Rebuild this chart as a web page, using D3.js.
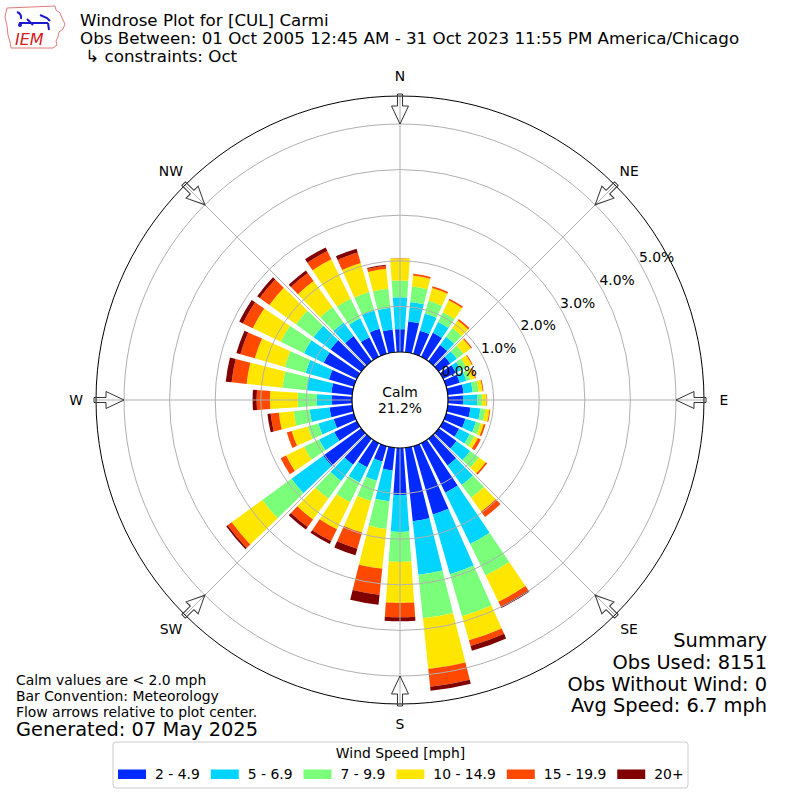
<!DOCTYPE html>
<html>
<head>
<meta charset="utf-8">
<script src="https://cdn.jsdelivr.net/npm/d3@7"></script>
<style>
body { margin: 0; background: #fff; }
text { font-family: "DejaVu Sans", sans-serif; fill: #000; }
</style>
</head>
<body>
<div id="chart"></div>
<script>
//set svg dimensions
var svgWidth = 800;
var svgHeight = 800;
//center of the rose and radii in px
var cx = 400;
var cy = 400;
var calmRadius = 48;
var outerRadius = 304;

//wind directions (degrees, meteorological)
var directions = [0, 10, 20, 30, 40, 50, 60, 70, 80, 90, 100, 110, 120, 130, 140, 150, 160, 170,
    180, 190, 200, 210, 220, 230, 240, 250, 260, 270, 280, 290, 300, 310, 320, 330, 340, 350];
//speed bins
var speedBins = ["2 - 4.9", "5 - 6.9", "7 - 9.9", "10 - 14.9", "15 - 19.9", "20+"];
//frequency (%) per direction for each speed bin
var speed2to5 = [0.50, 0.68, 0.53, 0.59, 0.44, 0.31, 0.31, 0.31, 0.35, 0.33, 0.50, 0.44, 0.39, 0.48, 0.72, 1.21, 1.56, 1.62,
    1.03, 0.50, 0.35, 0.59, 0.70, 1.03, 0.55, 0.46, 0.50, 0.44, 0.46, 0.57, 0.81, 0.83, 0.68, 0.48, 0.57, 0.50];
var speed5to7 = [0.70, 0.43, 0.39, 0.26, 0.22, 0.18, 0.13, 0.15, 0.20, 0.31, 0.22, 0.24, 0.26, 0.37, 0.53, 1.25, 1.36, 1.18,
    0.81, 0.68, 0.44, 0.37, 0.44, 0.86, 0.37, 0.35, 0.44, 0.33, 0.55, 0.53, 0.48, 0.46, 0.37, 0.46, 0.42, 0.48];
var speed7to10 = [0.37, 0.34, 0.29, 0.24, 0.24, 0.18, 0.13, 0.09, 0.13, 0.11, 0.11, 0.11, 0.11, 0.24, 0.35, 0.77, 0.96, 0.96,
    0.66, 0.61, 0.46, 0.48, 0.48, 0.79, 0.37, 0.24, 0.35, 0.42, 0.53, 0.48, 0.57, 0.48, 0.42, 0.48, 0.42, 0.42];
var speed10to15 = [0.48, 0.24, 0.29, 0.29, 0.20, 0.20, 0.13, 0.11, 0.09, 0.10, 0.09, 0.07, 0.09, 0.18, 0.37, 0.64, 0.55, 1.12,
    0.90, 0.88, 0.72, 0.66, 0.57, 0.83, 0.44, 0.37, 0.33, 0.61, 0.79, 0.68, 0.68, 0.72, 0.70, 0.96, 0.66, 0.44];
var speed15to20 = [0.01, 0.04, 0.04, 0.04, 0.04, 0.03, 0.02, 0.02, 0.02, 0.01, 0.02, 0.04, 0.07, 0.04, 0.15, 0.11, 0.13, 0.39,
    0.31, 0.57, 0.37, 0.29, 0.20, 0.11, 0.13, 0.11, 0.18, 0.29, 0.33, 0.33, 0.24, 0.26, 0.22, 0.20, 0.24, 0.07];
var speed20plus = [0, 0, 0, 0, 0, 0, 0, 0, 0, 0, 0, 0, 0, 0, 0, 0.04, 0.11, 0.09,
    0.09, 0.22, 0.15, 0.07, 0.07, 0.04, 0, 0, 0.07, 0.09, 0.13, 0.09, 0.09, 0.07, 0.07, 0.09, 0.09, 0.02];
//radial ticks (%)
var ringTicks = [0, 1, 2, 3, 4, 5];
//compass points
var compassLabels = ["N", "NE", "E", "SE", "S", "SW", "W", "NW"];
var compassAngles = [0, 45, 90, 135, 180, 225, 270, 315];
//calm percentage
var calmPct = 21.2;
//summary lines
var summaryLines = ["Summary", "Obs Used: 8151", "Obs Without Wind: 0", "Avg Speed: 6.7 mph"];
var footLines = ["Calm values are < 2.0 mph", "Bar Convention: Meteorology", "Flow arrows relative to plot center."];

//jet colors for the bins
var binColors = ["#002aff", "#00d4ff", "#7bff7b", "#ffe600", "#ff4900", "#800000"];

//build table for the stack
var series = [speed2to5, speed5to7, speed7to10, speed10to15, speed15to20, speed20plus];
var table = directions.map(function (dir, i) {
    var row = { dir: dir };
    speedBins.forEach(function (b, j) { row[b] = series[j][i]; });
    return row;
});
var stacked = d3.stack().keys(speedBins)(table);

//scales
var rScale = d3.scaleLinear().domain([0, 5]).range([calmRadius, 276]);
var angle = d3.scaleLinear().domain([0, 360]).range([0, 2 * Math.PI]);
var color = d3.scaleOrdinal().domain(speedBins).range(binColors);

//append svg
var svg = d3.select("#chart").append("svg")
    .attr("width", svgWidth)
    .attr("height", svgHeight);
svg.append("rect").attr("width", svgWidth).attr("height", svgHeight).attr("fill", "#fff");

var rose = svg.append("g").attr("transform", `translate(${cx}, ${cy})`);

//bars
var arc = d3.arc()
    .innerRadius(d => rScale(d[0]))
    .outerRadius(d => rScale(d[1]))
    .startAngle(d => angle(d.data.dir - 4))
    .endAngle(d => angle(d.data.dir + 4));

rose.selectAll("g.layer")
    .data(stacked)
    .enter()
    .append("g")
    .attr("class", "layer")
    .attr("fill", d => color(d.key))
    .selectAll("path")
    .data(d => d.filter(s => s[1] > s[0]))
    .enter()
    .append("path")
    .attr("d", arc);

//grid rings
rose.selectAll("circle.ring")
    .data(ringTicks.filter(t => t > 0))
    .enter()
    .append("circle")
    .attr("class", "ring")
    .attr("r", d => rScale(d))
    .attr("fill", "none")
    .attr("stroke", "#b0b0b0")
    .attr("stroke-width", 1);

//radial grid lines
rose.selectAll("line.spoke")
    .data(compassAngles)
    .enter()
    .append("line")
    .attr("class", "spoke")
    .attr("x1", d => calmRadius * Math.sin(angle(d)))
    .attr("y1", d => -calmRadius * Math.cos(angle(d)))
    .attr("x2", d => outerRadius * Math.sin(angle(d)))
    .attr("y2", d => -outerRadius * Math.cos(angle(d)))
    .attr("stroke", "#b0b0b0")
    .attr("stroke-width", 1);

//outer frame
rose.append("circle")
    .attr("r", outerRadius)
    .attr("fill", "none")
    .attr("stroke", "#000")
    .attr("stroke-width", 1);

//calm circle
rose.append("circle")
    .attr("r", calmRadius)
    .attr("fill", "#fff")
    .attr("stroke", "#000")
    .attr("stroke-width", 1.2);
rose.append("text")
    .attr("x", 0).attr("y", -3)
    .attr("text-anchor", "middle")
    .attr("font-size", "13.9px")
    .text("Calm");
rose.append("text")
    .attr("x", 0).attr("y", 13)
    .attr("text-anchor", "middle")
    .attr("font-size", "13.9px")
    .text(calmPct.toFixed(1) + "%");

//ring labels at 30 deg above east
var labAng = Math.PI / 6;
rose.selectAll("text.rlab")
    .data(ringTicks)
    .enter()
    .append("text")
    .attr("class", "rlab")
    .attr("x", d => rScale(d) * Math.cos(labAng))
    .attr("y", d => -rScale(d) * Math.sin(labAng))
    .attr("font-size", "13.9px")
    .text(d => d.toFixed(1) + "%");

//flow arrows at the compass points
var arrowPath = "M-2.5,-306 L2.5,-306 L2.5,-294 L8.5,-294 L0,-276 L-8.5,-294 L-2.5,-294 Z";
rose.selectAll("path.arrow")
    .data(compassAngles)
    .enter()
    .append("path")
    .attr("class", "arrow")
    .attr("d", arrowPath)
    .attr("transform", d => `rotate(${d})`)
    .attr("fill", "none")
    .attr("stroke", "#333")
    .attr("stroke-width", 1);

//compass labels
rose.selectAll("text.compass")
    .data(compassLabels)
    .enter()
    .append("text")
    .attr("class", "compass")
    .attr("x", (d, i) => 324 * Math.sin(angle(compassAngles[i])))
    .attr("y", (d, i) => -324 * Math.cos(angle(compassAngles[i])))
    .attr("dy", "0.35em")
    .attr("text-anchor", "middle")
    .attr("font-size", "13.9px")
    .text(d => d);

//title
var title = svg.append("g").attr("font-size", "16.7px");
title.append("text").attr("x", 80).attr("y", 26).text("Windrose Plot for [CUL] Carmi");
title.append("text").attr("x", 80).attr("y", 44).text("Obs Between: 01 Oct 2005 12:45 AM - 31 Oct 2023 11:55 PM America/Chicago");
title.append("text").attr("x", 80).attr("y", 62).text(" \u21b3 constraints: Oct").style("white-space", "pre");

//iem logo (simplified)
var logo = svg.append("g");
logo.append("path")
    .attr("d", "M7,8 L55,6 L56,10 L60,13 L62,18 L65,24 L63,29 L59,32 L58,37 L56,41 L57,45 L53,48 L11,48 L10,42 L8,35 L7,26 L5,17 Z")
    .attr("fill", "none")
    .attr("stroke", "#e07a7a")
    .attr("stroke-width", 1);
logo.append("path")
    .attr("d", "M19,23 L48,23 M17,12 Q22,14 21,19 M40,15 L47,18 L50,21 M48,23 L49,30 M27,19 L33,25")
    .attr("fill", "none")
    .attr("stroke", "#1a1acc")
    .attr("stroke-width", 2);
logo.append("circle").attr("cx", 20).attr("cy", 25).attr("r", 2).attr("fill", "#1a1acc");
logo.append("text")
    .attr("x", 15).attr("y", 45)
    .attr("font-family", "Liberation Serif")
    .attr("font-style", "italic")
    .attr("font-size", "16px")
    .style("fill", "#d02020")
    .text("IEM");

//footnotes
svg.selectAll("text.foot")
    .data(footLines)
    .enter()
    .append("text")
    .attr("class", "foot")
    .attr("x", 16)
    .attr("y", (d, i) => 685 + i * 16)
    .attr("font-size", "13.9px")
    .text(d => d);
svg.append("text")
    .attr("x", 16).attr("y", 736)
    .attr("font-size", "19.4px")
    .text("Generated: 07 May 2025");

//summary block
svg.selectAll("text.summary")
    .data(summaryLines)
    .enter()
    .append("text")
    .attr("class", "summary")
    .attr("x", 767)
    .attr("y", (d, i) => 647 + i * 21.8)
    .attr("text-anchor", "end")
    .attr("font-size", "19.4px")
    .text(d => d);

//legend
var legend = svg.append("g");
legend.append("rect")
    .attr("x", 113).attr("y", 742)
    .attr("width", 575).attr("height", 46)
    .attr("rx", 3)
    .attr("fill", "#fff")
    .attr("stroke", "#cccccc");
legend.append("text")
    .attr("x", 400.5).attr("y", 758)
    .attr("text-anchor", "middle")
    .attr("font-size", "13.9px")
    .text("Wind Speed [mph]");
var lx = 118;
speedBins.forEach(function (b) {
    legend.append("rect")
        .attr("x", lx).attr("y", 769.5)
        .attr("width", 28).attr("height", 9.5)
        .attr("fill", color(b));
    var t = legend.append("text")
        .attr("x", lx + 37).attr("y", 779)
        .attr("font-size", "13.9px")
        .text(b);
    lx = lx + 37 + t.node().getComputedTextLength() + 11;
});
</script>
</body>
</html>
